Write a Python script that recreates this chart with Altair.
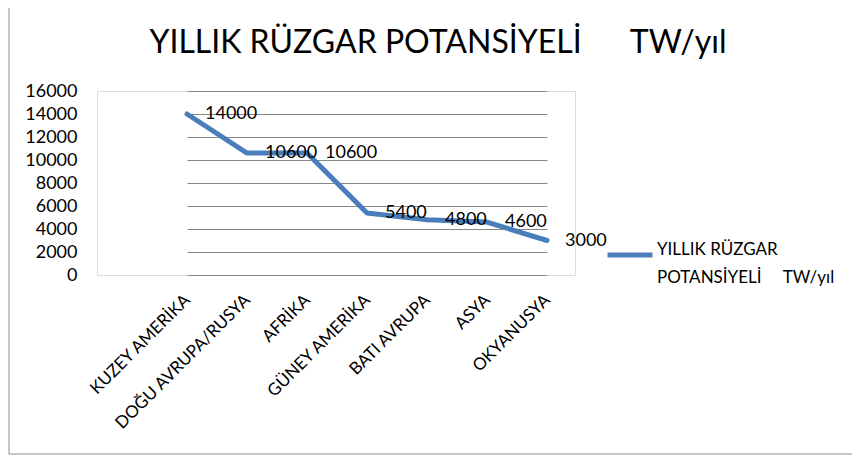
import altair as alt
import pandas as pd

NB = "\u00a0"
categories = ["KUZEY AMERİKA", "DOĞU AVRUPA/RUSYA", "AFRİKA", "GÜNEY AMERİKA",
              "BATI AVRUPA", "ASYA", "OKYANUSYA"]
values = [14000, 10600, 10600, 5400, 4800, 4600, 3000]
series_name = "YILLIK RÜZGAR POTANSİYELİ" + NB * 5 + "TW/yıl"
legend_lines = ["YILLIK RÜZGAR", "POTANSİYELİ" + NB * 5 + "TW/yıl"]
title_text = "YILLIK RÜZGAR POTANSİYELİ" + NB * 6 + "TW/yıl"
y_ticks = [0, 2000, 4000, 6000, 8000, 10000, 12000, 14000, 16000]

df = pd.DataFrame({"kategori": categories, "deger": values, "seri": series_name})

FONT = "Lato"
BLUE = "#4A7EBB"
GRID = "#888888"

x_enc = alt.X("kategori:N", sort=categories, title=None,
              scale=alt.Scale(type="point", range=[90, 450], padding=0),
              axis=alt.Axis(labelAngle=-45, labelAlign="right", labelBaseline="middle",
                            labelPadding=22, ticks=False, domain=False, grid=False,
                            labelFont=FONT, labelFontSize=17, labelColor="#000000",
                            labelLimit=300))
y_enc = alt.Y("deger:Q", title=None,
              scale=alt.Scale(domain=[0, 16000], nice=False),
              axis=alt.Axis(values=y_ticks, ticks=False, domain=False, grid=True,
                            format="d", gridColor=GRID, gridWidth=1, labelPadding=20,
                            labelFont=FONT, labelFontSize=18, labelColor="#000000"))

base = alt.Chart(df)

legend_expr = "['" + legend_lines[0] + "', '" + legend_lines[1] + "']"

line = base.mark_line(strokeWidth=5, strokeJoin="round", strokeCap="round").encode(
    x=x_enc, y=y_enc,
    color=alt.Color("seri:N", scale=alt.Scale(range=[BLUE]),
                    legend=alt.Legend(title=None, orient="none", legendX=508, legendY=139,
                                      symbolType="stroke", symbolSize=2025,
                                      symbolStrokeWidth=5, labelFont=FONT,
                                      labelFontSize=17, labelColor="#000000",
                                      labelBaseline="alphabetic", labelOffset=2,
                                      labelLimit=400, labelExpr=legend_expr))
)

labels = base.mark_text(align="left", baseline="middle", dx=18, font=FONT,
                        fontSize=18, color="#000000").encode(
    x=x_enc, y=y_enc, text=alt.Text("deger:Q", format="d"))

title_mark = alt.Chart(pd.DataFrame({"t": [title_text]})).mark_text(
    align="center", baseline="middle", font=FONT, fontSize=32, color="#000000").encode(
    text="t:N", x=alt.value(341), y=alt.value(-48))

frame = alt.Chart(pd.DataFrame({"a": [0]})).mark_rect(
    fill="transparent", stroke="#8c8c8c", strokeWidth=1).encode(
    x=alt.value(-88), x2=alt.value(800), y=alt.value(-90), y2=alt.value(363))

chart = alt.layer(frame, line, labels, title_mark).properties(
    width=478, height=184,
    padding={"left": 89, "top": 83, "right": 277, "bottom": 180},
    autosize=alt.AutoSizeParams(type="none"),
).configure_view(stroke=GRID, strokeWidth=1).configure(
    background="white", style={"guide-label": {"lineHeight": 28}})

chart.save("out.html", embed_options={"renderer": "svg", "actions": False})
